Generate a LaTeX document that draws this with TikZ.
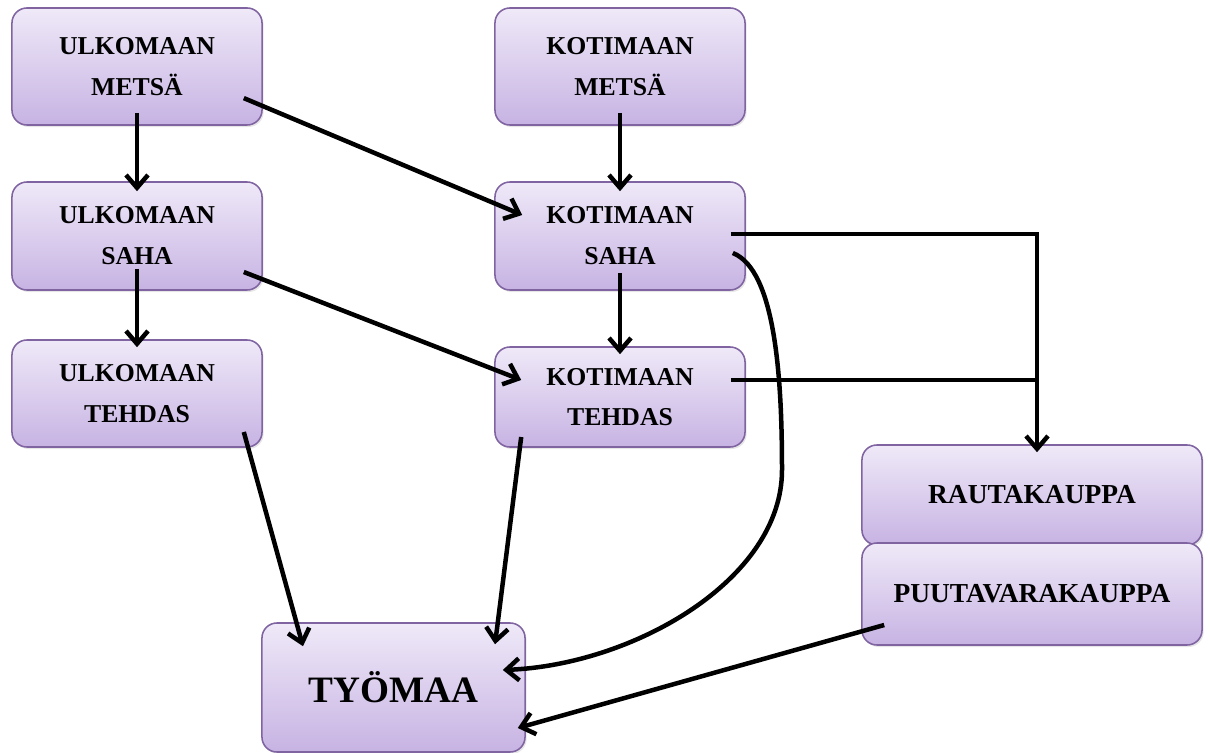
\documentclass[tikz,border=0pt]{standalone}
\usepackage{fontspec}
\setmainfont{Liberation Serif}
\usetikzlibrary{arrows.meta,shadows}
\definecolor{boxline}{HTML}{8064A2}
\definecolor{boxtop}{HTML}{EFE9F8}
\definecolor{boxbottom}{HTML}{C7B3E3}
\tikzset{
  box/.style={rounded corners=0.375cm, draw=boxline, line width=1.1pt,
    top color=boxtop, bottom color=boxbottom, align=center, inner sep=0pt,
    minimum width=6.25cm, font=\fontsize{18.3}{29}\selectfont\bfseries,
    drop shadow={opacity=0.2, shadow xshift=0.04cm, shadow yshift=-0.05cm}},
  shop/.style={box, minimum width=8.5cm, font=\fontsize{19.5}{29}\selectfont\bfseries},
  link/.style={line width=3.2pt, -{Straight Barb[length=0.32cm,width=0.55cm]}}
}
\begin{document}
\begin{tikzpicture}[x=0.025cm,y=-0.025cm]
            \useasboundingbox (0,0) rectangle (1210,753);

            \node[box, minimum height=2.925cm] (umetsa) at (137, 66.5) {ULKOMAAN\\METSÄ};
            \node[box, minimum height=2.925cm] (kmetsa) at (620, 66.5) {KOTIMAAN\\METSÄ};
            \node[box, minimum height=2.7cm] (usaha) at (137, 236) {ULKOMAAN\\SAHA};
            \node[box, minimum height=2.7cm] (ksaha) at (620, 236) {KOTIMAAN\\SAHA};
            \node[box, minimum height=2.675cm] (utehdas) at (137, 393.5) {ULKOMAAN\\TEHDAS};
            \node[box, minimum height=2.5cm] (ktehdas) at (620, 397) {KOTIMAAN\\TEHDAS};
            \node[shop, minimum height=2.5cm] (rauta) at (1032, 495) {RAUTAKAUPPA};
            \node[shop, minimum height=2.55cm] (puuta) at (1032, 594) {PUUTAVARAKAUPPA};
            \node[box, minimum width=6.575cm, minimum height=3.225cm,
                  font=\fontsize{26.5}{30}\selectfont\bfseries] (tyomaa) at (393.5, 687.5) {TYÖMAA};

            \draw[link] ([yshift=0.325cm]umetsa.south) -- ([yshift=-0.25cm]usaha.north);
            \draw[link] ([yshift=0.325cm]kmetsa.south) -- ([yshift=-0.25cm]ksaha.north);
            \draw[link] ([yshift=0.55cm]usaha.south) -- ([yshift=-0.2cm]utehdas.north);
            \draw[link] ([yshift=0.45cm]ksaha.south) -- ([yshift=-0.2cm]ktehdas.north);
            \draw[link] ([xshift=-0.475cm,yshift=-0.79cm]umetsa.east) -- ([xshift=0.7cm,yshift=0.525cm]ksaha.west);
            \draw[link] ([xshift=-0.475cm,yshift=-0.9cm]usaha.east) -- ([xshift=0.675cm,yshift=0.425cm]ktehdas.west);

            % to the shops
            \coordinate (drop) at ([xshift=0.125cm,yshift=-0.2cm]rauta.north);
            \coordinate (ksout) at ([xshift=-0.375cm,yshift=0.05cm]ksaha.east);
            \coordinate (ktout) at ([xshift=-0.375cm,yshift=0.425cm]ktehdas.east);
            \draw[link] (ksout) -| (drop);
            \draw[line width=3.2pt] (ktout) -- (ktout -| drop);

            % to the site
            \coordinate (bend) at (782, 470);
            \draw[line width=3.2pt] ([xshift=-0.325cm,yshift=-0.425cm]ksaha.east)
                .. controls +(43, 17) and +(0, -90) .. (bend);
            \draw[link] (bend) .. controls +(0, 110) and +(130, -5) .. ([xshift=-0.575cm,yshift=0.4375cm]tyomaa.east);
            \draw[link] ([xshift=-0.475cm,yshift=-0.9625cm]utehdas.east) -- ([xshift=-2.2625cm,yshift=-0.6cm]tyomaa.north);
            \draw[link] ([xshift=0.675cm,yshift=-1.0cm]ktehdas.west) -- ([xshift=2.5375cm,yshift=-0.55cm]tyomaa.north);
            \draw[link] ([xshift=0.575cm,yshift=-0.775cm]puuta.west) -- ([xshift=-0.2cm,yshift=-1.0125cm]tyomaa.east);
        \end{tikzpicture}
\end{document}
